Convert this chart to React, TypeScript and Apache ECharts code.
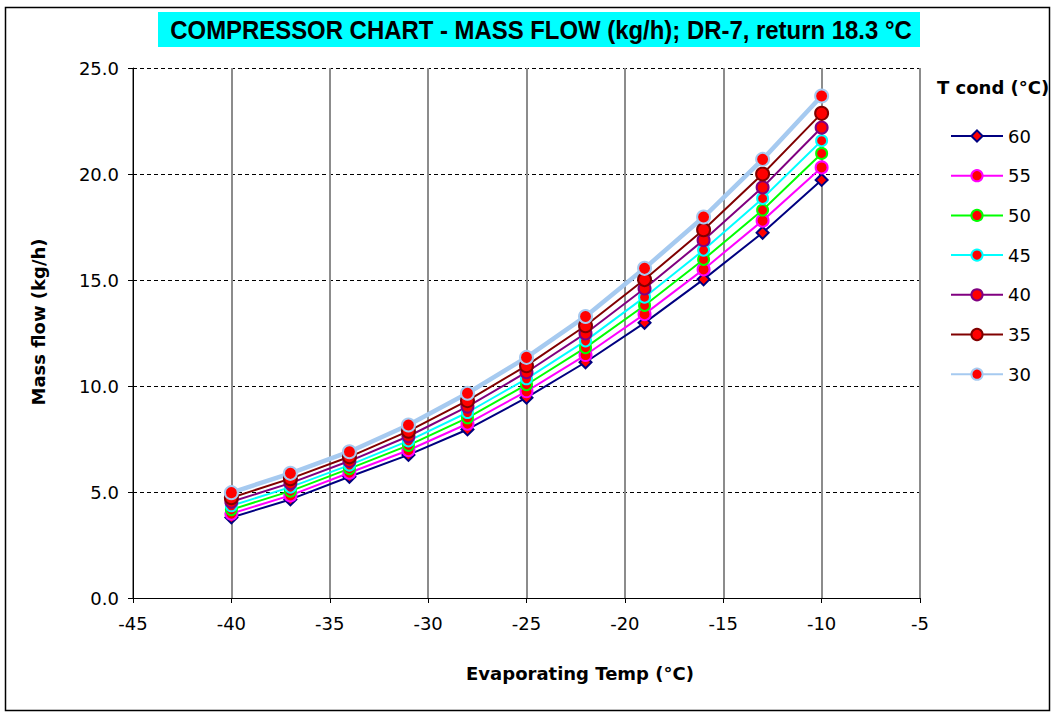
import React, { useEffect, useRef } from "react";
import * as echarts from "echarts";

const evapTemps = [-40, -37, -34, -31, -28, -25, -22, -19, -16, -13, -10];
const condNames = ["60", "55", "50", "45", "40", "35", "30"];

const flow60 = [3.8, 4.65, 5.72, 6.75, 7.95, 9.45, 11.12, 12.98, 15.03, 17.23, 19.72];
const flow55 = [3.98, 4.84, 5.91, 6.97, 8.22, 9.75, 11.46, 13.39, 15.5, 17.8, 20.31];
const flow50 = [4.17, 5.04, 6.1, 7.2, 8.5, 10.06, 11.81, 13.8, 15.97, 18.3, 20.97];
const flow45 = [4.35, 5.23, 6.27, 7.41, 8.75, 10.34, 12.13, 14.19, 16.41, 18.85, 21.57];
const flow40 = [4.54, 5.42, 6.46, 7.63, 9.03, 10.65, 12.48, 14.6, 16.88, 19.37, 22.19];
const flow35 = [4.73, 5.63, 6.66, 7.87, 9.31, 10.96, 12.84, 15.02, 17.37, 20.0, 22.86];
const flow30 = [4.97, 5.88, 6.9, 8.16, 9.66, 11.35, 13.28, 15.55, 17.97, 20.69, 23.68];

const yTicks = [0, 5, 10, 15, 20, 25];
const xTicks = [-45, -40, -35, -30, -25, -20, -15, -10, -5];

const FONT = "'DejaVu Sans', Verdana, sans-serif";
const TITLE_FONT = "'Liberation Sans', Arial, sans-serif";

export default function App() {
  const ref = useRef<HTMLDivElement>(null);
  useEffect(() => {
    document.body.style.margin = "0";
    const chart = echarts.init(ref.current!, null, { renderer: "svg" });
    const flows = [flow60, flow55, flow50, flow45, flow40, flow35, flow30];
    const styles = [
      { line: "#000080", width: 2, symbol: "diamond", size: 12, border: "#000080" },
      { line: "#FF00FF", width: 2, symbol: "circle", size: 12, border: "#FF00FF" },
      { line: "#00FF00", width: 2, symbol: "circle", size: 11, border: "#00FF00" },
      { line: "#00FFFF", width: 2, symbol: "circle", size: 11, border: "#00FFFF" },
      { line: "#800080", width: 2, symbol: "circle", size: 12, border: "#800080" },
      { line: "#800000", width: 2, symbol: "circle", size: 13, border: "#800000" },
      { line: "#A6CAF0", width: 4.5, symbol: "circle", size: 13, border: "#A6CAF0" },
    ];
    const series = condNames.map((name, i) => ({
      name,
      type: "line",
      data: evapTemps.map((t, j) => [t, flows[i][j]]),
      symbol: styles[i].symbol,
      symbolSize: styles[i].size,
      showAllSymbol: true,
      lineStyle: { color: styles[i].line, width: styles[i].width },
      itemStyle: { color: "#FF0000", borderColor: styles[i].border, borderWidth: 2 },
      emphasis: { disabled: true },
    }));
    chart.setOption({
      animation: false,
      backgroundColor: "#FFFFFF",
      grid: { left: 133, right: 132, top: 68, bottom: 117, containLabel: false },
      xAxis: {
        type: "value",
        min: -45,
        max: -5,
        interval: 5,
        axisLine: { show: true, onZero: false, lineStyle: { color: "#000000", width: 1 } },
        axisTick: { show: true, inside: false, length: 5, lineStyle: { color: "#000000" } },
        axisLabel: {
          margin: 16,
          color: "#000000",
          fontSize: 18,
          fontFamily: FONT,
          formatter: (v: number) => (xTicks.includes(v) ? String(v) : ""),
        },
        splitLine: { show: true, lineStyle: { color: "#8C8C8C", width: 2, type: "solid" } },
      },
      yAxis: {
        type: "value",
        min: 0,
        max: 25,
        interval: 5,
        axisLine: { show: true, lineStyle: { color: "#000000", width: 1 } },
        axisTick: { show: true, inside: false, length: 5, lineStyle: { color: "#000000" } },
        axisLabel: {
          margin: 14,
          color: "#000000",
          fontSize: 18,
          fontFamily: FONT,
          formatter: (v: number) => (yTicks.includes(v) ? v.toFixed(1) : ""),
        },
        splitLine: { show: true, lineStyle: { color: "#000000", width: 1, type: [4, 3] } },
      },
      legend: {
        orient: "vertical",
        left: 950,
        top: 127,
        padding: 0,
        itemWidth: 52,
        itemHeight: 14,
        itemGap: 21.7,
        data: condNames,
        textStyle: { fontSize: 18, color: "#000000", fontFamily: FONT },
        selectedMode: false,
      },
      graphic: [
        {
          type: "rect",
          shape: { x: 5.5, y: 7.5, width: 1044, height: 703 },
          style: { fill: "none", stroke: "#000000", lineWidth: 1.5 },
          silent: true,
        },
        {
          type: "rect",
          shape: { x: 158, y: 12, width: 762, height: 35 },
          style: { fill: "#00FFFF" },
          silent: true,
        },
        {
          type: "text",
          x: 541,
          y: 30,
          scaleX: 0.92,
          style: {
            text: "COMPRESSOR CHART - MASS FLOW (kg/h); DR-7, return 18.3 °C",
            font: "bold 26px " + TITLE_FONT,
            fill: "#000000",
            align: "center",
            verticalAlign: "middle",
          },
          silent: true,
        },
        {
          type: "text",
          x: 937,
          y: 87,
          style: {
            text: "T cond (°C)",
            font: "bold 18px " + FONT,
            fill: "#000000",
            align: "left",
            verticalAlign: "middle",
          },
          silent: true,
        },
        {
          type: "text",
          x: 38,
          y: 322,
          rotation: Math.PI / 2,
          style: {
            text: "Mass flow (kg/h)",
            font: "bold 18px " + FONT,
            fill: "#000000",
            align: "center",
            verticalAlign: "middle",
          },
          silent: true,
        },
        {
          type: "text",
          x: 580,
          y: 673,
          style: {
            text: "Evaporating Temp (°C)",
            font: "bold 18px " + FONT,
            fill: "#000000",
            align: "center",
            verticalAlign: "middle",
          },
          silent: true,
        },
      ],
      series,
    });
    return () => chart.dispose();
  }, []);
  return <div ref={ref} style={{ width: 1052, height: 715 }} />;
}
